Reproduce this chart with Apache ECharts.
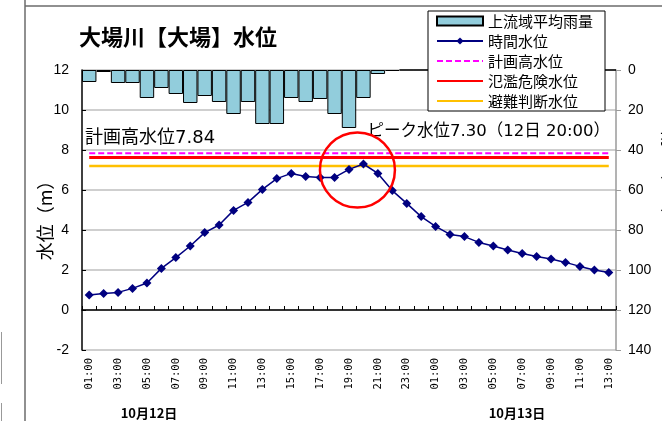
<!DOCTYPE html>
<html>
<head>
<meta charset="utf-8">
<script src="https://cdn.jsdelivr.net/npm/echarts@6/dist/echarts.min.js"></script>
<style>
  html, body { margin: 0; padding: 0; background: #fff; }
  #chart { width: 662px; height: 421px; }
</style>
</head>
<body>
<div id="chart"></div>
<script>
// Hourly time labels: 12th 01:00 .. 13th 13:00
const hours = [
  '01:00','02:00','03:00','04:00','05:00','06:00','07:00','08:00','09:00','10:00',
  '11:00','12:00','13:00','14:00','15:00','16:00','17:00','18:00','19:00','20:00',
  '21:00','22:00','23:00','00:00','01:00','02:00','03:00','04:00','05:00','06:00',
  '07:00','08:00','09:00','10:00','11:00','12:00','13:00'
];

// Upstream basin average rainfall (mm/h)
const rainfall = [
  6, 1, 6.5, 6.5, 14, 9, 12, 16.5, 13, 16,
  22, 16, 27, 27, 14, 16, 14.5, 22, 29, 14,
  2, 0.5, 0, 0, 0, 0, 0, 0, 0, 0,
  0, 0, 0, 0, 0, 0, 0
];

// Hourly water level (m)
const waterLevel = [
  0.75, 0.83, 0.88, 1.08, 1.35, 2.08, 2.62, 3.20, 3.87, 4.25,
  4.98, 5.38, 6.03, 6.57, 6.83, 6.68, 6.63, 6.63, 7.03, 7.30,
  6.83, 5.97, 5.33, 4.67, 4.18, 3.78, 3.67, 3.38, 3.20, 3.00,
  2.83, 2.67, 2.55, 2.38, 2.18, 2.00, 1.87
];

// Reference water levels (m)
const planLevel = 7.84;      // 計画高水位
const dangerLevel = 7.62;    // 氾濫危険水位
const evacLevel = 7.20;      // 避難判断水位

const levelTicks = { min: -2, max: 12, step: 2 };
const rainTicks = { min: 0, max: 140, step: 20 };

const peakIndex = 19;
const peakLabel = '（12日 20:00）';
const dayLabels = ['10月12日', '10月13日'];
const levelAxisName = '水位（m）';
const rainAxisName = '雨量（mm）';

const FONT = '"Noto Sans CJK JP", "Liberation Sans", sans-serif';
const NUM_FONT = '"Liberation Sans", "Noto Sans CJK JP", sans-serif';
const MONO_FONT = '"DejaVu Sans Mono", "Liberation Mono", monospace';
const NOTE_FONT = '"DejaVu Sans", "Noto Sans CJK JP", sans-serif';
const last = hours.length - 1;

const chart = echarts.init(document.getElementById('chart'), null, { renderer: 'canvas' });

function refLine(name, value, color, width, type) {
  return {
    name: name,
    type: 'line',
    yAxisIndex: 0,
    symbol: 'none',
    silent: true,
    data: [[0, value], [last, value]],
    lineStyle: { color: color, width: width, type: type },
    itemStyle: { color: color },
    z: 3
  };
}

// legend entry for a plain line (no marker)
function lineOnly(name) {
  return { name: name, itemStyle: { opacity: 0 } };
}

chart.setOption({
  backgroundColor: '#ffffff',
  animation: false,
  textStyle: { fontFamily: FONT },
  title: {
    text: '大場川【大場】水位',
    left: 79,
    top: 26,
    padding: 0,
    textStyle: { fontFamily: FONT, fontSize: 22, fontWeight: 'bold', color: '#000' }
  },
  legend: {
    orient: 'vertical',
    left: 428,
    top: 11,
    padding: [2, 12, 2, 8],
    itemWidth: 46,
    itemHeight: 9,
    itemGap: 4,
    backgroundColor: '#ffffff',
    borderColor: '#000000',
    borderWidth: 1,
    borderRadius: 0,
    textStyle: { fontFamily: FONT, fontSize: 15, lineHeight: 16, color: '#000' },
    data: [
      { name: '上流域平均雨量', icon: 'rect' },
      { name: '時間水位' },
      lineOnly('計画高水位'),
      lineOnly('氾濫危険水位'),
      lineOnly('避難判断水位')
    ]
  },
  grid: { left: 82, right: 46, top: 70, bottom: 71, containLabel: false },
  xAxis: {
    type: 'category',
    data: hours,
    boundaryGap: true,
    axisLine: { lineStyle: { color: '#000', width: 1.5 } },
    axisTick: { show: true, inside: true, length: 4, interval: 0, lineStyle: { color: '#000' } },
    axisLabel: {
      interval: 1,
      rotate: 90,
      margin: 8,
      fontFamily: MONO_FONT,
      fontSize: 10.5,
      color: '#000'
    },
    splitLine: { show: false }
  },
  yAxis: [
    {
      type: 'value',
      min: levelTicks.min,
      max: levelTicks.max,
      interval: levelTicks.step,
      axisLine: { show: true, lineStyle: { color: '#000', width: 1.5 } },
      axisTick: { show: true, inside: true, length: 4, lineStyle: { color: '#000' } },
      axisLabel: { margin: 13, fontFamily: NUM_FONT, fontSize: 14, color: '#000' },
      splitLine: { show: true, lineStyle: { color: '#bfbfbf', width: 1.5 } }
    },
    {
      type: 'value',
      position: 'right',
      inverse: true,
      min: rainTicks.min,
      max: rainTicks.max,
      interval: rainTicks.step,
      axisLine: { show: true, lineStyle: { color: '#9a9a9a', width: 1.5 } },
      axisTick: { show: true, inside: false, length: 5, lineStyle: { color: '#9a9a9a' } },
      axisLabel: { margin: 12, fontFamily: NUM_FONT, fontSize: 14, color: '#000' },
      splitLine: { show: false }
    }
  ],
  series: [
    {
      name: '上流域平均雨量',
      type: 'bar',
      yAxisIndex: 1,
      barCategoryGap: '0%',
      data: rainfall,
      itemStyle: { color: '#92cddc', borderColor: '#000', borderWidth: 1 },
      z: 2
    },
    refLine('計画高水位', planLevel, '#ff00ff', 2, [6, 3]),
    refLine('氾濫危険水位', dangerLevel, '#ff0000', 3, 'solid'),
    refLine('避難判断水位', evacLevel, '#ffc000', 2.5, 'solid'),
    {
      name: '時間水位',
      type: 'line',
      yAxisIndex: 0,
      data: waterLevel,
      symbol: 'diamond',
      symbolSize: 9,
      lineStyle: { color: '#000080', width: 1.5 },
      itemStyle: { color: '#000080' },
      z: 5
    }
  ]
});

// Annotations placed relative to the data scale
const peakPx = chart.convertToPixel({ xAxisIndex: 0, yAxisIndex: 0 }, [peakIndex, waterLevel[peakIndex]]);
const planPx = chart.convertToPixel({ xAxisIndex: 0, yAxisIndex: 0 }, [0, planLevel]);

chart.setOption({
  graphic: [
    // page frame edges
    { type: 'line', silent: true, shape: { x1: 25, y1: 0, x2: 25, y2: 421 }, style: { stroke: '#6b6b6b', lineWidth: 1.5 } },
    { type: 'line', silent: true, shape: { x1: 25, y1: 6, x2: 662, y2: 6 }, style: { stroke: '#6b6b6b', lineWidth: 1.5 } },
    { type: 'line', silent: true, shape: { x1: 1.5, y1: 332, x2: 1.5, y2: 384 }, style: { stroke: '#999', lineWidth: 1 } },
    { type: 'line', silent: true, shape: { x1: 1.5, y1: 403, x2: 1.5, y2: 421 }, style: { stroke: '#999', lineWidth: 1 } },
    // water level axis title
    {
      type: 'text', silent: true,
      x: 45, y: 216, rotation: Math.PI / 2,
      style: { text: levelAxisName, font: '18px ' + FONT, fill: '#000', align: 'center', verticalAlign: 'middle' }
    },
    // plan level note
    {
      type: 'text', silent: true,
      left: 85, top: planPx[1] - 24,
      style: { text: '計画高水位' + planLevel.toFixed(2), font: '18px ' + NOTE_FONT, fill: '#000' }
    },
    // peak note
    {
      type: 'text', silent: true,
      right: 52, top: 123,
      style: { text: 'ピーク水位' + waterLevel[peakIndex].toFixed(2) + peakLabel, font: '16.5px ' + NOTE_FONT, fill: '#000' }
    },
    // peak highlight circle
    {
      type: 'circle', silent: true,
      shape: { cx: peakPx[0] - 6, cy: peakPx[1] + 6, r: 37.5 },
      style: { fill: 'none', stroke: '#ff0000', lineWidth: 2.5 },
      z: 10
    },
    // day labels
    {
      type: 'text', silent: true,
      x: 149, y: 413,
      style: { text: dayLabels[0], font: 'bold 13px ' + FONT, fill: '#000', align: 'center', verticalAlign: 'middle' }
    },
    {
      type: 'text', silent: true,
      x: 517, y: 413,
      style: { text: dayLabels[1], font: 'bold 13px ' + FONT, fill: '#000', align: 'center', verticalAlign: 'middle' }
    },
    // rainfall axis title (runs off the right edge)
    {
      type: 'text', silent: true,
      x: 669, y: 178, rotation: -Math.PI / 2,
      style: { text: rainAxisName, font: '16px ' + FONT, fill: '#000', align: 'center', verticalAlign: 'middle' }
    }
  ]
});
</script>
</body>
</html>
